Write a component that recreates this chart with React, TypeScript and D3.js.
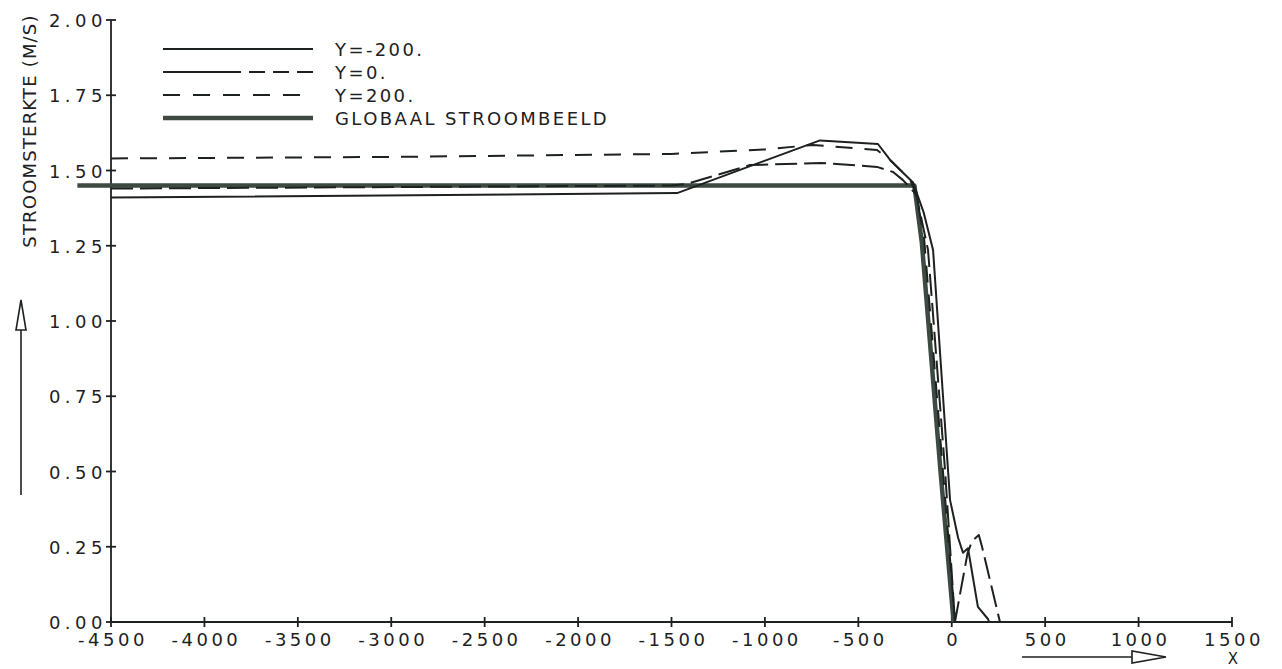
import React from 'react'
import * as d3 from 'd3'

const globaal: [number, number][] = [
  [-4680, 1.45], [-200, 1.45], [-160, 1.26], [-60, 0.5], [10, 0],
]

const yMin200: [number, number][] = [
  [-4500, 1.41], [-1470, 1.425], [-705, 1.6], [-395, 1.588], [-330, 1.535],
  [-207, 1.46], [-150, 1.36], [-100, 1.236], [-20, 0.505], [-9, 0.405],
  [34, 0.28], [60, 0.23], [87, 0.245], [140, 0.05], [194, 0.01], [200, 0],
]

const y0: [number, number][] = [
  [-4500, 1.44], [-1500, 1.45], [-1420, 1.455], [-1080, 1.518], [-700, 1.525],
  [-400, 1.512], [-314, 1.495], [-261, 1.468], [-190, 1.42], [-127, 1.236],
  [-36, 0.505], [17, 0], [85, 0.23], [110, 0.27], [145, 0.289], [162, 0.25],
  [258, 0],
]

const y200: [number, number][] = [
  [-4500, 1.54], [-3000, 1.545], [-1500, 1.555], [-1000, 1.57], [-743, 1.585],
  [-400, 1.568], [-330, 1.535], [-223, 1.47], [-195, 1.43], [-150, 1.29],
  [-60, 0.6], [18, 0],
]

const xTicks = [-4500, -4000, -3500, -3000, -2500, -2000, -1500, -1000, -500, 0, 500, 1000, 1500]
const yTicks = [0, 0.25, 0.5, 0.75, 1.0, 1.25, 1.5, 1.75, 2.0]

const legendItems = [
  { label: 'Y=-200.', dash: 'none', width: 2 },
  { label: 'Y=0.', dash: '78,8,16,8,16,8', width: 2 },
  { label: 'Y=200.', dash: '17,13', width: 2 },
  { label: 'GLOBAAL STROOMBEELD', dash: 'none', width: 4.5 },
]

const INK = '#1d211f'
const THICK = '#3c4a42'
const FONT = '"DejaVu Sans", "Liberation Sans", sans-serif'

export default function App() {
  const width = 1282
  const height = 669
  const x = d3.scaleLinear().domain([-4500, 1500]).range([111, 1232])
  const y = d3.scaleLinear().domain([0, 2]).range([622, 20])
  const line = d3.line<[number, number]>()
    .x((d) => x(d[0]))
    .y((d) => y(d[1]))

  return (
    <svg width={width} height={height}
      style={{ position: 'absolute', left: 0, top: 0, background: '#fff' }}>
      {/* axes */}
      <g stroke={INK} strokeWidth={1.8} fill="none">
        <line x1={x(-4500)} x2={x(-4500)} y1={y(0)} y2={y(2)} />
        <line x1={x(-4500)} x2={x(1500)} y1={y(0)} y2={y(0)} />
        {yTicks.map((t) => (
          <line key={'yt' + t} x1={x(-4500) - 5} x2={x(-4500) + 5} y1={y(t)} y2={y(t)} />
        ))}
        {xTicks.map((t) => (
          <line key={'xt' + t} x1={x(t)} x2={x(t)} y1={y(0) - 5} y2={y(0) + 5} />
        ))}
      </g>

      <g fontFamily={FONT} fontSize={18} fill={INK}>
        {yTicks.map((t) => (
          <text key={'yl' + t} x={x(-4500) - 4} y={y(t) + 7} textAnchor="end" letterSpacing={4.5}>
            {t.toFixed(2)}
          </text>
        ))}
        {xTicks.map((t) => (
          <text key={'xl' + t} x={x(t) + 2} y={646} textAnchor="middle" letterSpacing={3.5}>
            {t}
          </text>
        ))}
      </g>

      {/* y axis title + arrow */}
      <text transform="translate(36,131) rotate(-90)" textAnchor="middle"
        fontFamily={FONT} fontSize={18} letterSpacing={1.2} fill={INK}>
        STROOMSTERKTE (M/S)
      </text>
      <g stroke={INK} strokeWidth={1.6} fill="none">
        <line x1={21} x2={21} y1={330} y2={495} />
        <path d="M21,300 L16,330 L26,330 Z" />
        <line x1={1022} x2={1132} y1={657} y2={657} />
        <path d="M1166,657 L1132,651 L1132,663 Z" />
      </g>
      <text x={1233} y={664} textAnchor="middle" fontFamily={FONT} fontSize={15} fill={INK}>X</text>

      {/* series */}
      <g fill="none" strokeLinejoin="round">
        <path d={line(globaal) ?? ''} stroke={THICK} strokeWidth={4.5} />
        <path d={line(yMin200) ?? ''} stroke={INK} strokeWidth={2} />
        <path d={line(y0) ?? ''} stroke={INK} strokeWidth={2} strokeDasharray="22,7" />
        <path d={line(y200) ?? ''} stroke={INK} strokeWidth={2} strokeDasharray="17,12" />
      </g>

      {/* legend */}
      <g fontFamily={FONT} fontSize={18} fill={INK} letterSpacing={2.4}>
        {legendItems.map((item, i) => {
          const ly = 49 + i * 23
          return (
            <g key={item.label}>
              <line x1={163} x2={313} y1={ly} y2={ly}
                stroke={i === 3 ? THICK : INK} strokeWidth={item.width}
                strokeDasharray={item.dash} />
              <text x={335} y={ly + 7}>{item.label}</text>
            </g>
          )
        })}
      </g>
    </svg>
  )
}
